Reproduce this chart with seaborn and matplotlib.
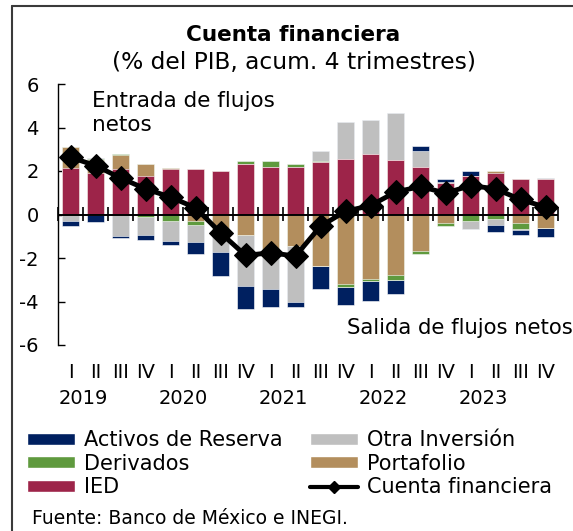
import numpy as np
import pandas as pd
import matplotlib
matplotlib.use("Agg")
import matplotlib.pyplot as plt
import seaborn as sns
from matplotlib.lines import Line2D
from matplotlib.patches import Patch

# ---------------- data ----------------
quarters = ["I", "II", "III", "IV"] * 5
years = ["2019", "2020", "2021", "2022", "2023"]
periods = [f"{y}-{q}" for y in years for q in ["I", "II", "III", "IV"]]

ied = [2.13, 1.90, 2.08, 1.79, 2.08, 2.10, 1.99, 2.31, 2.20, 2.20,
       2.42, 2.56, 2.76, 2.50, 2.20, 1.47, 1.79, 1.90, 1.62, 1.61]
portafolio = [0.96, 0.61, 0.65, 0.55, 0.06, -0.29, -0.70, -0.93, -1.96, -1.45,
              -2.39, -3.19, -2.96, -2.76, -1.68, -0.38, 0.00, 0.08, -0.40, -0.64]
derivados = [0.03, 0.03, 0.05, -0.12, -0.28, -0.21, -0.10, 0.15, 0.26, 0.14,
             0.05, -0.15, -0.08, -0.23, -0.15, -0.17, -0.31, -0.20, -0.25, 0.00]
otra_inversion = [-0.30, 0.06, -0.98, -0.84, -0.92, -0.77, -0.92, -2.36, -1.47, -2.57,
                  0.45, 1.67, 1.59, 2.17, 0.74, 0.02, -0.37, -0.28, -0.08, 0.09]
activos_reserva = [-0.21, -0.35, -0.09, -0.20, -0.20, -0.54, -1.10, -1.07, -0.83, -0.23,
                   -1.03, -0.80, -0.92, -0.66, 0.21, 0.12, 0.20, -0.31, -0.21, -0.41]
cuenta_financiera = [2.63, 2.25, 1.68, 1.18, 0.80, 0.31, -0.84, -1.88, -1.76, -1.91,
                     -0.54, 0.15, 0.41, 1.03, 1.29, 0.98, 1.33, 1.18, 0.69, 0.34]

series_names = ["IED", "Portafolio", "Derivados", "Otra Inversión", "Activos de Reserva"]
series_values = [ied, portafolio, derivados, otra_inversion, activos_reserva]
colors = {
    "IED": "#9D2449",
    "Portafolio": "#B38E5D",
    "Derivados": "#5F9A3E",
    "Otra Inversión": "#BFBFBF",
    "Activos de Reserva": "#002060",
}

# ---------------- figure ----------------
sns.set_theme(style="white")
plt.rcParams["font.family"] = ["DejaVu Sans"]
plt.rcParams["text.color"] = "black"
W, H = 573, 531
fig = plt.figure(figsize=(W / 100, H / 100), dpi=100)
ax = fig.add_axes([58 / W, 1 - 345 / H, 500 / W, 261 / H])

# stacked cumulative tops (positive & negative separately)
vals = np.array(series_values)
pos = np.clip(vals, 0, None)
neg = np.clip(vals, None, 0)
pos_cum = np.cumsum(pos, axis=0)
neg_cum = np.cumsum(neg, axis=0)

for cum in (pos_cum, neg_cum):
    for k in range(len(series_names) - 1, -1, -1):
        df = pd.DataFrame({"periodo": periods, "valor": cum[k]})
        sns.barplot(data=df, x="periodo", y="valor", order=periods,
                    color=colors[series_names[k]], saturation=1, width=0.68,
                    edgecolor="white", linewidth=0.4, ax=ax, errorbar=None)

ax.axhline(0, color="black", lw=1.4, zorder=3)

line_df = pd.DataFrame({"x": np.arange(len(periods)), "y": cuenta_financiera})
sns.lineplot(data=line_df, x="x", y="y", color="black", lw=3.5, marker="D",
             markersize=12, markeredgecolor="black", ax=ax, zorder=5)

ax.set_xlim(-0.5, len(periods) - 0.5)
ax.set_ylim(-6, 6)
ax.set_yticks([-6, -4, -2, 0, 2, 4, 6])
ax.set_yticklabels(["-6", "-4", "-2", "0", "2", "4", "6"])
ax.set_xticks(np.arange(len(periods)))
ax.set_xticklabels(quarters)
ax.set_xlabel("")
ax.set_ylabel("")
for s in ["top", "right", "bottom"]:
    ax.spines[s].set_visible(False)
ax.spines["left"].set_color("black")
ax.spines["left"].set_linewidth(1.0)
ax.tick_params(axis="y", direction="in", length=5, width=1, colors="black",
               labelsize=14, pad=14, left=True)
ax.tick_params(axis="x", length=0, labelsize=14, pad=13, colors="black")

# boundary ticks on zero line
sec = ax.secondary_xaxis(0.5)
sec.set_xticks(np.arange(-0.5, len(periods), 1.0))
sec.set_xticklabels([])
sec.tick_params(axis="x", direction="inout", length=10, width=1.2, colors="black",
                labelbottom=False, labeltop=False)
for sp in sec.spines.values():
    sp.set_visible(False)

# year labels
for i, y in enumerate(years):
    ax.text(4 * i + 0.5, -0.205, y, transform=ax.get_xaxis_transform(),
            ha="center", va="center", fontsize=14, color="black")

# annotations
ax.text(0.068, 0.975, "Entrada de flujos\nnetos", transform=ax.transAxes,
        ha="left", va="top", fontsize=15.5, color="black", linespacing=1.3)
ax.text(1.03, 0.065, "Salida de flujos netos", transform=ax.transAxes,
        ha="right", va="center", fontsize=15.2, color="black")

# titles
fig.text(293 / W, 1 - 35 / H, "Cuenta financiera", ha="center", va="center",
         fontsize=15.5, fontweight="bold", color="black")
fig.text(294 / W, 1 - 62 / H, "(% del PIB, acum. 4 trimestres)", ha="center",
         va="center", fontsize=16.8, color="black")

# legend
handles = [Patch(facecolor=colors["Activos de Reserva"]),
           Patch(facecolor=colors["Derivados"]),
           Patch(facecolor=colors["IED"]),
           Patch(facecolor=colors["Otra Inversión"]),
           Patch(facecolor=colors["Portafolio"]),
           Line2D([], [], color="black", lw=3, marker="D", markersize=6)]
labels = ["Activos de Reserva", "Derivados", "IED", "Otra Inversión",
          "Portafolio", "Cuenta financiera"]
fig.legend(handles, labels, ncol=2, loc="upper left",
           bbox_to_anchor=(23 / W, 1 - 426 / H), frameon=False, fontsize=15,
           labelcolor="black", borderaxespad=0,
           handlelength=2.3, handleheight=0.5, handletextpad=0.45,
           columnspacing=1.3, labelspacing=0.17, borderpad=0.2)

fig.text(32 / W, 1 - 518 / H, "Fuente: Banco de México e INEGI.", ha="left",
         va="center", fontsize=13.5, color="black")

# frame
fig.add_artist(Line2D([12 / W, 12 / W], [0, 1 - 6 / H], transform=fig.transFigure,
                      color="#3a3a3a", lw=1.5))
fig.add_artist(Line2D([12 / W, 1], [1 - 6 / H, 1 - 6 / H], transform=fig.transFigure,
                      color="#3a3a3a", lw=1.5))

fig.savefig("out.png", dpi=100)
